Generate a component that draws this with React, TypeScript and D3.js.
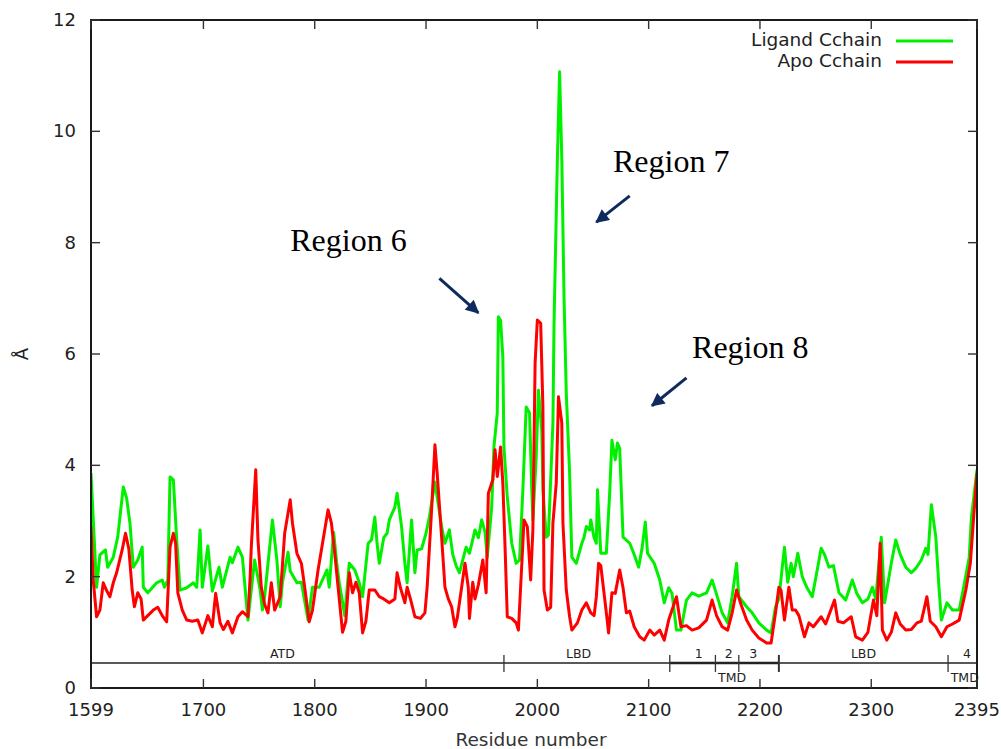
import React from "react";
import * as d3 from "d3";

// Per-residue fluctuation (Å) along the C chain
const ligandRes = [1599,1604,1607,1612,1614,1619,1623,1628,1631,1634,1637,1641,1645,1646,1650,1658,1663,1665,1668,1670,1673,1676,1679,1685,1691,1694,1697,1699,1704,1708,1714,1717,1724,1726,1731,1735,1740,1746,1751,1753,1755,1762,1766,1769,1771,1776,1778,1784,1788,1794,1798,1804,1811,1813,1817,1820,1822,1827,1831,1836,1840,1843,1848,1851,1854,1856,1858,1862,1865,1867,1872,1874,1878,1881,1883,1887,1890,1892,1896,1900,1903,1908,1914,1917,1921,1924,1927,1930,1933,1936,1939,1944,1947,1950,1953,1955,1959,1961,1964,1965,1967,1969,1970,1973,1977,1981,1984,1987,1990,1993,1995,1996,1999,2001,2004,2005,2008,2010,2014,2015,2018,2020,2022,2024,2026,2029,2031,2035,2040,2042,2044,2047,2048,2051,2053,2054,2057,2062,2065,2067,2070,2072,2074,2077,2083,2087,2091,2094,2097,2099,2105,2110,2114,2118,2121,2125,2129,2134,2139,2145,2152,2157,2160,2166,2171,2175,2179,2181,2188,2193,2199,2206,2210,2214,2217,2222,2225,2228,2230,2234,2238,2242,2247,2251,2255,2258,2262,2266,2271,2277,2283,2287,2292,2297,2301,2304,2309,2312,2318,2322,2326,2331,2336,2340,2345,2349,2351,2354,2358,2361,2363,2368,2373,2379,2383,2388,2390,2395];
const ligandVal = [3.86,1.81,2.39,2.48,2.17,2.35,2.71,3.61,3.41,2.96,2.17,2.3,2.53,1.81,1.71,1.89,1.94,1.81,1.94,3.79,3.74,2.66,1.76,1.8,1.89,1.81,2.84,1.81,2.55,1.74,2.17,1.81,2.35,2.25,2.53,2.35,1.22,2.3,1.76,1.4,1.64,3.02,2.3,1.46,1.9,2.44,2.1,1.89,1.9,1.22,1.81,1.81,2.12,1.81,2.8,2.2,1.9,1.3,2.24,2.12,1.89,1.64,2.6,2.66,3.07,2.6,2.24,2.7,2.78,3.02,3.25,3.5,2.9,2.24,1.89,3.02,2.07,2.48,2.5,2.78,3.07,3.7,2.9,2.6,2.84,2.4,2.2,2.07,2.3,2.53,2.42,2.84,2.7,3.02,2.8,2.35,3.25,4.33,4.94,6.67,6.6,5.95,4.33,3.43,2.6,2.24,2.3,3.56,5.05,4.94,3.56,3.02,4.15,5.35,4.63,3.56,2.71,2.75,4.76,6.55,9.5,11.07,9.5,7.0,5.3,3.86,2.35,2.24,2.6,2.71,2.9,2.84,3.02,2.7,2.6,3.56,2.42,2.42,3.5,4.45,4.1,4.4,4.3,2.71,2.6,2.4,2.17,2.5,2.98,2.42,2.24,1.94,1.53,1.8,1.7,1.04,1.04,1.58,1.71,1.65,1.71,1.94,1.75,1.35,1.17,1.64,2.24,1.64,1.46,1.35,1.17,1.04,0.99,1.46,1.6,2.53,1.9,2.24,2.0,2.42,2.0,1.81,1.64,2.07,2.51,2.4,2.17,2.2,1.71,1.58,1.94,1.7,1.53,1.6,1.81,1.6,2.71,1.53,2.24,2.66,2.4,2.17,2.07,2.15,2.3,2.51,2.4,3.29,2.71,1.76,1.22,1.53,1.4,1.4,1.81,2.35,3.07,3.92];

const apoRes = [1599,1601,1604,1607,1610,1613,1616,1619,1622,1627,1630,1633,1636,1638,1641,1644,1646,1650,1655,1659,1663,1667,1670,1673,1675,1677,1681,1685,1690,1695,1699,1704,1708,1711,1715,1718,1722,1726,1731,1735,1740,1742,1743,1747,1749,1752,1755,1758,1761,1764,1769,1773,1778,1780,1784,1788,1791,1795,1798,1803,1807,1812,1815,1818,1821,1825,1828,1831,1834,1837,1840,1843,1846,1849,1854,1858,1862,1867,1872,1874,1877,1881,1883,1886,1890,1895,1899,1901,1905,1908,1910,1914,1917,1920,1923,1926,1928,1932,1935,1938,1939,1942,1944,1947,1951,1954,1956,1960,1962,1964,1967,1969,1971,1973,1977,1981,1983,1987,1988,1991,1994,1996,1998,2000,2003,2005,2006,2009,2012,2014,2017,2019,2022,2023,2026,2029,2031,2036,2040,2044,2048,2051,2053,2055,2057,2062,2064,2067,2070,2074,2077,2080,2083,2087,2092,2096,2101,2105,2110,2114,2118,2125,2129,2134,2139,2145,2152,2157,2161,2166,2171,2175,2179,2183,2188,2193,2199,2206,2210,2214,2217,2219,2222,2226,2229,2232,2235,2240,2244,2248,2255,2259,2267,2270,2275,2282,2286,2292,2297,2302,2305,2308,2310,2314,2318,2322,2326,2331,2336,2341,2345,2350,2353,2358,2363,2368,2373,2379,2385,2389,2392,2395];
const apoVal = [2.9,1.94,1.28,1.4,1.89,1.75,1.64,1.89,2.07,2.48,2.78,2.5,1.76,1.46,1.71,1.6,1.22,1.3,1.4,1.45,1.3,1.19,2.53,2.78,2.6,1.71,1.4,1.22,1.2,1.22,0.99,1.3,1.1,1.7,1.17,1.05,1.2,0.99,1.28,1.37,1.28,2.0,2.53,3.92,2.66,1.81,1.5,1.35,1.89,1.4,1.64,2.78,3.38,2.96,2.42,2.24,1.81,1.19,1.4,2.12,2.6,3.2,2.96,2.42,1.81,1.0,1.2,2.07,1.71,1.9,1.71,0.99,1.2,1.76,1.76,1.64,1.6,1.53,1.6,2.07,1.8,1.53,1.81,1.6,1.28,1.25,1.35,1.81,3.2,4.37,3.86,2.71,1.81,1.6,1.46,1.1,1.25,1.81,2.24,1.8,1.25,1.9,1.6,1.85,2.3,1.71,3.5,3.74,4.28,3.8,4.33,3.68,2.53,1.28,1.25,1.17,1.04,2.6,3.02,2.9,1.94,2.84,5.84,6.61,6.55,5.05,1.76,1.4,1.45,2.96,3.68,5.23,4.76,2.96,1.76,1.28,1.04,1.17,1.4,1.53,1.35,1.3,1.64,2.24,2.2,1.35,0.99,1.71,1.7,2.12,1.8,1.35,1.38,1.1,0.92,0.86,1.04,0.95,1.04,0.86,1.22,1.64,1.1,1.12,1.04,1.08,1.22,1.58,1.3,1.1,1.04,1.35,1.76,1.5,1.22,1.04,0.9,0.81,0.81,1.35,1.81,1.75,1.22,1.81,1.4,1.4,1.3,0.92,1.17,1.1,1.28,1.15,1.58,1.2,1.17,1.28,0.92,0.86,1.0,1.58,1.3,2.6,1.04,0.86,1.0,1.35,1.15,1.04,1.05,1.17,1.2,1.64,1.2,1.1,0.92,1.1,1.15,1.22,1.76,2.24,3.07,3.86];

const xTicks = [1599, 1700, 1800, 1900, 2000, 2100, 2200, 2300, 2395];
const yTicks = [0, 2, 4, 6, 8, 10, 12];

// Domain annotation bar
const domainLevel = 0.45;
const domainBounds = [1970, 2119, 2160, 2181, 2217, 2369];
const domainBold = [2119, 2217];
const domainTop = [
  { label: "ATD", res: 1771 },
  { label: "LBD", res: 2037 },
  { label: "1", res: 2145 },
  { label: "2", res: 2172 },
  { label: "3", res: 2194 },
  { label: "LBD", res: 2293 },
  { label: "4", res: 2386 },
];
const domainBottom = [
  { label: "TMD", res: 2175 },
  { label: "TMD", res: 2384 },
];

// Region callouts: label anchor and arrow tail -> tip, in data units
const regions = [
  { label: "Region 6", lx: 1778, ly: 7.85, x0: 1912, y0: 7.36, x1: 1947, y1: 6.74 },
  { label: "Region 7", lx: 2068, ly: 9.27, x0: 2083, y0: 8.84, x1: 2053, y1: 8.37 },
  { label: "Region 8", lx: 2139, ly: 5.93, x0: 2134, y0: 5.57, x1: 2103, y1: 5.07 },
];

const series = [
  { name: "Ligand Cchain", res: ligandRes, val: ligandVal, color: "#00f000" },
  { name: "Apo Cchain", res: apoRes, val: apoVal, color: "#ff0000" },
];

const W = 1001;
const H = 749;
const L = 91, R = 977, T = 20, B = 688;
const axisFont = "DejaVu Sans, sans-serif";

export default function App() {
  const x = d3.scaleLinear().domain([1599, 2395]).range([L, R]);
  const y = d3.scaleLinear().domain([0, 12]).range([B, T]);

  const pathFor = (res: number[], val: number[]) =>
    d3
      .line<number>()
      .x((r) => x(r))
      .y((_, i) => y(val[i]))(res) as string;

  const yDom = y(domainLevel);
  const navy = "#0f2a5c";

  return (
    <svg
      width={W}
      height={H}
      style={{ position: "absolute", left: 0, top: 0, background: "#fff" }}
      fontFamily={axisFont}
    >
      <defs>
        <marker id="ah" viewBox="0 0 10 10" refX="9" refY="5" markerWidth="5" markerHeight="4.5" orient="auto" markerUnits="strokeWidth">
          <path d="M0,0 L10,5 L0,10 Z" fill={navy} />
        </marker>
        <clipPath id="plot">
          <rect x={L} y={T} width={R - L} height={B - T} />
        </clipPath>
      </defs>

      {/* data */}
      <g clipPath="url(#plot)">
        {series.map((s) => (
          <path
            key={s.name}
            d={pathFor(s.res, s.val)}
            fill="none"
            stroke={s.color}
            strokeWidth={3}
            strokeLinejoin="round"
          />
        ))}
      </g>

      {/* domain bar */}
      <line x1={L} x2={R} y1={yDom} y2={yDom} stroke="#222" strokeWidth={1.6} />
      <line x1={x(domainBold[0])} x2={x(domainBold[1])} y1={yDom} y2={yDom} stroke="#222" strokeWidth={2.4} />
      {domainBounds.map((r) => (
        <line
          key={r}
          x1={x(r)}
          x2={x(r)}
          y1={yDom - 8}
          y2={yDom + 9}
          stroke="#333"
          strokeWidth={r === 2217 ? 2 : 1.3}
        />
      ))}
      {domainTop.map((d, i) => (
        <text key={i} x={x(d.res)} y={yDom - 5} fontSize={12.5} textAnchor="middle" fill="#222">
          {d.label}
        </text>
      ))}
      {domainBottom.map((d, i) => (
        <text key={i} x={x(d.res)} y={yDom + 19} fontSize={12.5} textAnchor="middle" fill="#222">
          {d.label}
        </text>
      ))}

      {/* frame and ticks */}
      <rect x={L} y={T} width={R - L} height={B - T} fill="none" stroke="#1a1a1a" strokeWidth={2} />
      {xTicks.map((t) => (
        <g key={t}>
          <line x1={x(t)} x2={x(t)} y1={B} y2={B - 9} stroke="#333" strokeWidth={1.4} />
          <line x1={x(t)} x2={x(t)} y1={T} y2={T + 9} stroke="#333" strokeWidth={1.4} />
          <text x={x(t)} y={B + 28} fontSize={18} textAnchor="middle" fill="#222">
            {t}
          </text>
        </g>
      ))}
      {yTicks.map((t) => (
        <g key={t}>
          <line x1={L} x2={L + 9} y1={y(t)} y2={y(t)} stroke="#333" strokeWidth={1.4} />
          <line x1={R} x2={R - 9} y1={y(t)} y2={y(t)} stroke="#333" strokeWidth={1.4} />
          <text x={L - 15} y={y(t) + 6} fontSize={18} textAnchor="end" fill="#222">
            {t}
          </text>
        </g>
      ))}
      <text x={531} y={746} fontSize={18.5} textAnchor="middle" fill="#333">
        Residue number
      </text>
      <text transform={`translate(28, ${(T + B) / 2}) rotate(-90)`} fontSize={18} textAnchor="middle" fill="#222">
        Å
      </text>

      {/* legend */}
      {series.map((s, i) => (
        <g key={s.name}>
          <text x={882} y={46 + i * 21} fontSize={18.5} textAnchor="end" fill="#222">
            {s.name}
          </text>
          <line x1={896} x2={953} y1={41 + i * 21} y2={41 + i * 21} stroke={s.color} strokeWidth={3} />
        </g>
      ))}

      {/* region callouts */}
      {regions.map((r) => (
        <g key={r.label}>
          <text x={x(r.lx)} y={y(r.ly)} fontSize={32} fontFamily="Liberation Serif, Times New Roman, serif" fill="#000">
            {r.label}
          </text>
          <line
            x1={x(r.x0)}
            y1={y(r.y0)}
            x2={x(r.x1)}
            y2={y(r.y1)}
            stroke={navy}
            strokeWidth={3}
            markerEnd="url(#ah)"
          />
        </g>
      ))}
    </svg>
  );
}
